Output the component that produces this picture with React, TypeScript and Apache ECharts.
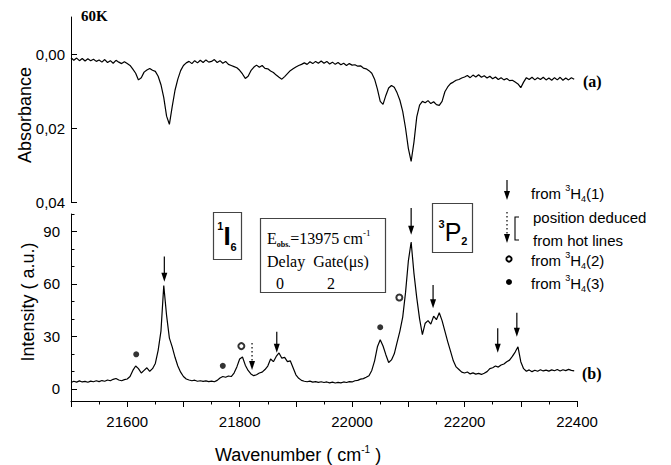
import { useEffect, useRef } from "react";
import * as echarts from "echarts";

// Both traces are sampled every 5 cm-1 starting at 21500 cm-1
const WN_START = 21500;
const WN_STEP = 5;

// (a) absorbance at 60 K
const absorbance = [
  0.0010, 0.0017, 0.0011, 0.0018, 0.0012, 0.0019, 0.0013, 0.0018, 0.0014, 0.0020,
  0.0016, 0.0022, 0.0015, 0.0023, 0.0018, 0.0025, 0.0017, 0.0022, 0.0026, 0.0021,
  0.0026, 0.0031, 0.0041, 0.0052, 0.0070, 0.0064, 0.0049, 0.0043, 0.0039, 0.0044,
  0.0047, 0.0060, 0.0083, 0.0118, 0.0168, 0.0190, 0.0142, 0.0098, 0.0068, 0.0045,
  0.0031, 0.0024, 0.0020, 0.0026, 0.0018, 0.0024, 0.0017, 0.0023, 0.0016, 0.0022,
  0.0020, 0.0015, 0.0023, 0.0018, 0.0025, 0.0020, 0.0028, 0.0031, 0.0034, 0.0037,
  0.0044, 0.0054, 0.0066, 0.0060, 0.0045, 0.0036, 0.0030, 0.0036, 0.0031, 0.0039,
  0.0040, 0.0046, 0.0050, 0.0057, 0.0063, 0.0068, 0.0061, 0.0053, 0.0045, 0.0040,
  0.0035, 0.0031, 0.0028, 0.0024, 0.0028, 0.0021, 0.0026, 0.0020, 0.0025, 0.0019,
  0.0025, 0.0020, 0.0027, 0.0022, 0.0028, 0.0023, 0.0029, 0.0025, 0.0031, 0.0026,
  0.0030, 0.0029, 0.0033, 0.0032, 0.0038, 0.0040, 0.0045, 0.0052, 0.0068, 0.0095,
  0.0128, 0.0136, 0.0112, 0.0092, 0.0085, 0.0090, 0.0105, 0.0125, 0.0155, 0.0200,
  0.0255, 0.0290, 0.0238, 0.0170, 0.0138, 0.0128, 0.0132, 0.0126, 0.0134, 0.0129,
  0.0137, 0.0139, 0.0128, 0.0102, 0.0089, 0.0080, 0.0076, 0.0071, 0.0069, 0.0065,
  0.0062, 0.0058, 0.0064, 0.0057, 0.0062, 0.0056, 0.0063, 0.0059, 0.0065, 0.0060,
  0.0067, 0.0062, 0.0069, 0.0064, 0.0070, 0.0066, 0.0072, 0.0071, 0.0076, 0.0081,
  0.0091, 0.0076, 0.0064, 0.0069, 0.0063, 0.0070, 0.0064, 0.0069, 0.0063, 0.0070,
  0.0065, 0.0071, 0.0064, 0.0070, 0.0063, 0.0071, 0.0065, 0.0070, 0.0064, 0.0068,
];

// (b) emission intensity (a.u.)
const intensity = [
  3.6, 4.3, 3.8, 4.5, 3.9, 4.2, 3.7, 4.4, 4.0, 4.6,
  4.1, 4.7, 4.3, 5.0, 4.6, 5.4, 5.9, 5.0, 4.6, 5.2,
  5.6, 7.0, 10.5, 13.0, 11.5, 9.0, 10.5, 12.0, 10.0, 11.5,
  14.5, 22.0, 33.0, 59.0, 42.0, 29.0, 24.0, 18.0, 13.0, 9.5,
  7.0, 5.6, 5.0, 4.6, 4.9, 4.3, 4.6, 4.2, 4.5, 4.1,
  4.4, 4.0, 4.8, 6.2, 7.0, 6.6, 7.3, 7.0, 9.0, 12.5,
  17.0, 18.2, 13.5, 10.5, 8.5, 7.5, 8.0, 9.0, 9.5, 11.0,
  13.0, 17.0, 15.5, 18.5, 20.5, 17.5, 18.0, 15.5, 16.0, 12.0,
  8.0, 6.0, 4.8, 4.3, 4.0, 4.4, 3.8, 4.1, 3.7, 4.0,
  3.6, 3.9, 3.4, 3.8, 3.3, 3.7, 3.4, 3.9, 3.6, 4.1,
  3.9, 4.6, 4.8, 5.5, 5.8, 6.6, 7.5, 10.5, 16.0, 24.0,
  28.0, 24.5, 19.5, 15.0, 16.5, 20.0, 26.5, 33.0, 41.0, 55.0,
  73.0, 84.0, 66.0, 52.0, 40.0, 31.0, 37.5, 39.0, 37.0, 41.5,
  39.5, 43.5, 39.0, 33.0, 27.0, 21.5, 16.0, 12.5, 11.0, 9.5,
  9.0, 9.6, 8.5, 9.1, 8.4, 8.8, 8.2, 8.9, 9.8, 11.5,
  12.0, 13.0, 12.4, 13.6, 14.2, 15.5, 16.4, 18.5, 21.0, 24.0,
  15.5, 11.5, 10.0, 10.8, 9.8, 10.6, 10.0, 10.9, 10.2, 10.7,
  10.1, 10.8, 10.3, 11.0, 10.2, 10.9, 10.4, 11.1, 10.5, 10.2,
];

const xTickLabels = [21600, 21800, 22000, 22200, 22400];
const xMinorTicks = [21550, 21650, 21750, 21850, 21950, 22050, 22150, 22250, 22350];
const absTicks = [0, 0.02, 0.04];
const intTicks = [0, 30, 60, 90];
const intMinorTicks = [10, 20, 40, 50, 70, 80, 100];

// Line assignments: [wavenumber, arrow start, arrow tip, dotted]
const arrows = [
  [21666, 75.7, 61.3, 0],
  [21822, 26.2, 10.7, 1],
  [21866, 32.6, 20.6, 0],
  [22105, 103.4, 88.1, 0],
  [22144, 59.4, 46.0, 0],
  [22259, 34.6, 20.6, 0],
  [22293, 43.5, 29.8, 0],
];
// lines from 3H4(2) (open circles) and 3H4(3) (filled dots)
const fromLevel2 = [
  [21803, 24.4],
  [22084, 52.2],
];
const fromLevel3 = [
  [21616, 19.7],
  [21770, 13.1],
  [22050, 35.2],
];

const SANS = "'Liberation Sans', Arial, sans-serif";
const SERIF = "'Liberation Serif', 'Times New Roman', serif";

const toPairs = (vals: number[]) => vals.map((v, i) => [WN_START + WN_STEP * i, v]);

const arrowGlyph = (x: number, y0: number, y1: number, dotted: boolean) => [
  {
    type: "line",
    shape: { x1: x, y1: y0, x2: x, y2: y1 - 8 },
    style: { stroke: "#000", lineWidth: 1.2, lineDash: dotted ? [1.5, 2.5] : null },
  },
  {
    type: "polygon",
    shape: { points: [[x - 3, y1 - 9], [x + 3, y1 - 9], [x, y1]] },
    style: { fill: "#000" },
  },
];

const levelText = (x: number, y: number, n: string) => ({
  type: "text",
  x,
  y,
  style: {
    text: `{t|from }{s|3}{t|H}{b|4}{t|(${n})}`,
    fill: "#000",
    textAlign: "left",
    textVerticalAlign: "middle",
    rich: {
      t: { fontSize: 15, fontFamily: SANS, lineHeight: 20, fill: "#000" },
      s: { fontSize: 9, fontFamily: SANS, verticalAlign: "top", fill: "#000" },
      b: { fontSize: 9, fontFamily: SANS, verticalAlign: "bottom", fill: "#000" },
    },
  },
});

const plainText = (x: number, y: number, text: string, font: string, align = "left") => ({
  type: "text",
  x,
  y,
  style: { text, font, fill: "#000", textAlign: align, textVerticalAlign: "middle" },
});

export default function App() {
  const ref = useRef<HTMLDivElement>(null);

  useEffect(() => {
    if (!ref.current) return;
    const chart = echarts.init(ref.current, null, { renderer: "svg" });

    const axisLine = { show: true, onZero: false, lineStyle: { color: "#000", width: 1 } };
    const labelStyle = { color: "#000", fontSize: 15, fontFamily: SANS };

    chart.setOption({
      animation: false,
      backgroundColor: "#fff",
      grid: [
        { left: 71, top: 17, width: 506, height: 185 },
        { left: 71, top: 214, width: 506, height: 187 },
      ],
      xAxis: [
        { type: "value", gridIndex: 0, min: 21500, max: 22400, show: false },
        {
          type: "value",
          gridIndex: 1,
          min: 21500,
          max: 22400,
          interval: 100,
          axisLine,
          axisTick: { show: true, length: 6, lineStyle: { color: "#000" } },
          axisLabel: {
            ...labelStyle,
            customValues: xTickLabels,
            margin: 13,
            formatter: (v: number) => String(Math.round(v)),
          },
          splitLine: { show: false },
        },
        {
          type: "value",
          gridIndex: 1,
          min: 21500,
          max: 22400,
          position: "bottom",
          axisLine: { show: false, onZero: false },
          axisTick: { show: true, length: 3.5, customValues: xMinorTicks, lineStyle: { color: "#000" } },
          axisLabel: { show: false },
          splitLine: { show: false },
        },
      ],
      yAxis: [
        {
          type: "value",
          gridIndex: 0,
          min: -0.01,
          max: 0.04,
          inverse: true,
          axisLine,
          axisTick: { show: true, inside: true, length: 6, customValues: absTicks, lineStyle: { color: "#000" } },
          axisLabel: {
            ...labelStyle,
            customValues: absTicks,
            margin: 6,
            formatter: (v: number) => v.toFixed(2).replace(".", ","),
          },
          splitLine: { show: false },
        },
        {
          type: "value",
          gridIndex: 1,
          min: -7,
          max: 100,
          axisLine,
          axisTick: { show: true, inside: true, length: 6, customValues: intTicks, lineStyle: { color: "#000" } },
          axisLabel: { ...labelStyle, customValues: intTicks, margin: 11 },
          splitLine: { show: false },
        },
        {
          type: "value",
          gridIndex: 1,
          min: -7,
          max: 100,
          position: "left",
          axisLine: { show: false },
          axisTick: { show: true, inside: true, length: 3.5, customValues: intMinorTicks, lineStyle: { color: "#000" } },
          axisLabel: { show: false },
          splitLine: { show: false },
        },
      ],
      series: [
        {
          name: "(a) absorbance",
          type: "line",
          xAxisIndex: 0,
          yAxisIndex: 0,
          data: toPairs(absorbance),
          showSymbol: false,
          lineStyle: { color: "#000", width: 1.2 },
        },
        {
          name: "(b) emission",
          type: "line",
          xAxisIndex: 1,
          yAxisIndex: 1,
          data: toPairs(intensity),
          showSymbol: false,
          lineStyle: { color: "#000", width: 1.2 },
        },
        {
          name: "3H4(3)",
          type: "scatter",
          xAxisIndex: 1,
          yAxisIndex: 1,
          data: fromLevel3,
          symbol: "circle",
          symbolSize: 6,
          itemStyle: { color: "#000" },
        },
        {
          name: "3H4(2)",
          type: "scatter",
          xAxisIndex: 1,
          yAxisIndex: 1,
          data: fromLevel2,
          symbol: "emptyCircle",
          symbolSize: 6,
          itemStyle: { color: "#000", borderWidth: 2 },
        },
        {
          name: "3H4(1)",
          type: "custom",
          xAxisIndex: 1,
          yAxisIndex: 1,
          clip: false,
          data: arrows,
          encode: { x: 0, y: 1 },
          renderItem: (_params: any, api: any) => {
            const a = api.coord([api.value(0), api.value(1)]);
            const b = api.coord([api.value(0), api.value(2)]);
            return {
              type: "group",
              children: arrowGlyph(a[0], a[1], b[1], api.value(3) === 1),
            };
          },
        },
      ],
      graphic: [
        plainText(81, 16, "60K", `bold 15px ${SERIF}`),
        plainText(583, 81, "(a)", `bold 16px ${SERIF}`),
        plainText(582, 373, "(b)", `bold 16px ${SERIF}`),
        {
          type: "text",
          x: 25,
          y: 115,
          rotation: Math.PI / 2,
          style: {
            text: "Absorbance",
            font: `18px ${SANS}`,
            fill: "#000",
            textAlign: "center",
            textVerticalAlign: "middle",
          },
        },
        {
          type: "text",
          x: 28,
          y: 302,
          rotation: Math.PI / 2,
          style: {
            text: "Intensity ( a.u.)",
            font: `18px ${SANS}`,
            fill: "#000",
            textAlign: "center",
            textVerticalAlign: "middle",
          },
        },
        {
          type: "text",
          x: 298,
          y: 455,
          style: {
            text: "{n|Wavenumber ( cm}{s|-1}{n| )}",
            fill: "#000",
            textAlign: "center",
            textVerticalAlign: "middle",
            rich: {
              n: { fontSize: 18, fontFamily: SANS, lineHeight: 22, fill: "#000" },
              s: { fontSize: 10, fontFamily: SANS, verticalAlign: "top", fill: "#000" },
            },
          },
        },
        // 1I6 term box
        {
          type: "rect",
          shape: { x: 213.5, y: 212.5, width: 28, height: 47 },
          style: { fill: "none", stroke: "#444", lineWidth: 1.2 },
        },
        {
          type: "text",
          x: 227,
          y: 236,
          style: {
            text: "{s|1}{i|I}{b|6}",
            fill: "#000",
            textAlign: "center",
            textVerticalAlign: "middle",
            rich: {
              s: { fontSize: 11, fontWeight: "bold", fontFamily: SANS, verticalAlign: "top", fill: "#000" },
              i: { fontSize: 26, fontWeight: "bold", fontFamily: SANS, lineHeight: 32, fill: "#000" },
              b: { fontSize: 11, fontWeight: "bold", fontFamily: SANS, verticalAlign: "bottom", fill: "#000" },
            },
          },
        },
        // 3P2 term box
        {
          type: "rect",
          shape: { x: 432.5, y: 203.5, width: 40, height: 49 },
          style: { fill: "none", stroke: "#444", lineWidth: 1.2 },
        },
        {
          type: "text",
          x: 453,
          y: 232,
          style: {
            text: "{s|3}{p|P}{b|2}",
            fill: "#000",
            textAlign: "center",
            textVerticalAlign: "middle",
            rich: {
              s: { fontSize: 11, fontWeight: "bold", fontFamily: SANS, verticalAlign: "top", fill: "#000" },
              p: { fontSize: 25, fontFamily: SANS, lineHeight: 28, fill: "#000" },
              b: { fontSize: 11, fontWeight: "bold", fontFamily: SANS, verticalAlign: "bottom", fill: "#000" },
            },
          },
        },
        // excitation / gating box
        {
          type: "rect",
          shape: { x: 260.5, y: 218.5, width: 125, height: 74 },
          style: { fill: "none", stroke: "#444", lineWidth: 1.2 },
        },
        {
          type: "text",
          x: 267,
          y: 238,
          style: {
            text: "{t|E}{o|obs.}{t|=13975 cm}{s|-1}",
            fill: "#000",
            textAlign: "left",
            textVerticalAlign: "middle",
            rich: {
              t: { fontSize: 16, fontFamily: SERIF, lineHeight: 20, fill: "#000" },
              o: { fontSize: 8, fontWeight: "bold", fontFamily: SERIF, verticalAlign: "bottom", fill: "#000" },
              s: { fontSize: 9, fontFamily: SERIF, verticalAlign: "top", fill: "#000" },
            },
          },
        },
        plainText(267, 261, "Delay  Gate(\u03bcs)", `16px ${SERIF}`),
        plainText(280, 283, "0", `16px ${SERIF}`, "center"),
        plainText(331, 283, "2", `16px ${SERIF}`, "center"),
        // key
        ...arrowGlyph(507, 180, 200, false),
        levelText(531, 193, "1"),
        ...arrowGlyph(507, 212, 243, true),
        {
          type: "polyline",
          shape: { points: [[519, 217], [515, 217], [515, 240], [519, 240]] },
          style: { stroke: "#000", lineWidth: 1.1, fill: "none" },
        },
        plainText(533, 217, "position deduced", `15px ${SANS}`),
        plainText(533, 240, "from hot lines", `15px ${SANS}`),
        {
          type: "circle",
          shape: { cx: 509, cy: 259, r: 2.6 },
          style: { fill: "#fff", stroke: "#000", lineWidth: 2 },
        },
        levelText(531, 260, "2"),
        {
          type: "circle",
          shape: { cx: 509, cy: 282, r: 3 },
          style: { fill: "#000" },
        },
        levelText(531, 283, "3"),
      ],
    });

    return () => chart.dispose();
  }, []);

  return (
    <div
      ref={ref}
      style={{ position: "absolute", left: 0, top: 0, width: 671, height: 465, background: "#fff" }}
    />
  );
}
